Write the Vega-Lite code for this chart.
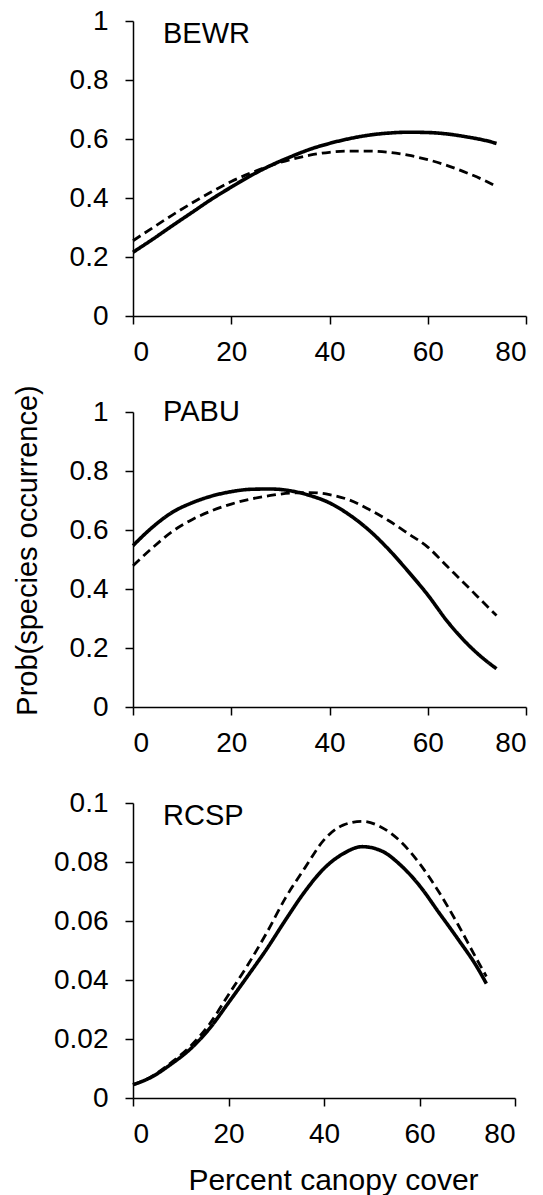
{
  "$schema": "https://vega.github.io/schema/vega-lite/v6.json",
  "background": "white",
  "padding": {"left": 13, "top": 7, "right": 1, "bottom": 0},
  "config": {
    "font": "Liberation Sans",
    "view": {"stroke": null},
    "axis": {
      "grid": false,
      "domainColor": "black",
      "domainWidth": 1.5,
      "tickColor": "black",
      "tickWidth": 1.5,
      "tickSize": 8,
      "labelColor": "black",
      "labelFont": "Liberation Sans",
      "labelFontSize": 28,
      "titleColor": "black",
      "titleFont": "Liberation Sans",
      "titleFontSize": 29,
      "titleFontWeight": "normal"
    },
    "axisX": {"labelPadding": 14, "titlePadding": 17},
    "axisY": {"labelPadding": 17, "titlePadding": 27},
    "title": {"font": "Liberation Sans", "fontSize": 29, "fontWeight": "normal", "color": "black", "anchor": "start", "frame": "group"}
  },
  "datasets": {
    "curves": [
      {"species": "BEWR", "curve": "A", "cover": 0, "prob": 0.216},
      {"species": "BEWR", "curve": "A", "cover": 4, "prob": 0.260},
      {"species": "BEWR", "curve": "A", "cover": 8, "prob": 0.306},
      {"species": "BEWR", "curve": "A", "cover": 12, "prob": 0.351},
      {"species": "BEWR", "curve": "A", "cover": 16, "prob": 0.396},
      {"species": "BEWR", "curve": "A", "cover": 20, "prob": 0.437},
      {"species": "BEWR", "curve": "A", "cover": 24, "prob": 0.476},
      {"species": "BEWR", "curve": "A", "cover": 28, "prob": 0.510},
      {"species": "BEWR", "curve": "A", "cover": 32, "prob": 0.539},
      {"species": "BEWR", "curve": "A", "cover": 36, "prob": 0.565},
      {"species": "BEWR", "curve": "A", "cover": 40, "prob": 0.585},
      {"species": "BEWR", "curve": "A", "cover": 44, "prob": 0.601},
      {"species": "BEWR", "curve": "A", "cover": 48, "prob": 0.613},
      {"species": "BEWR", "curve": "A", "cover": 52, "prob": 0.620},
      {"species": "BEWR", "curve": "A", "cover": 56, "prob": 0.623},
      {"species": "BEWR", "curve": "A", "cover": 60, "prob": 0.622},
      {"species": "BEWR", "curve": "A", "cover": 64, "prob": 0.617},
      {"species": "BEWR", "curve": "A", "cover": 68, "prob": 0.607},
      {"species": "BEWR", "curve": "A", "cover": 72, "prob": 0.594},
      {"species": "BEWR", "curve": "A", "cover": 74, "prob": 0.585},
      {"species": "BEWR", "curve": "B", "cover": 0, "prob": 0.255},
      {"species": "BEWR", "curve": "B", "cover": 4, "prob": 0.299},
      {"species": "BEWR", "curve": "B", "cover": 8, "prob": 0.342},
      {"species": "BEWR", "curve": "B", "cover": 12, "prob": 0.383},
      {"species": "BEWR", "curve": "B", "cover": 16, "prob": 0.421},
      {"species": "BEWR", "curve": "B", "cover": 20, "prob": 0.456},
      {"species": "BEWR", "curve": "B", "cover": 24, "prob": 0.485},
      {"species": "BEWR", "curve": "B", "cover": 28, "prob": 0.510},
      {"species": "BEWR", "curve": "B", "cover": 32, "prob": 0.530},
      {"species": "BEWR", "curve": "B", "cover": 36, "prob": 0.545},
      {"species": "BEWR", "curve": "B", "cover": 40, "prob": 0.555},
      {"species": "BEWR", "curve": "B", "cover": 44, "prob": 0.559},
      {"species": "BEWR", "curve": "B", "cover": 48, "prob": 0.559},
      {"species": "BEWR", "curve": "B", "cover": 52, "prob": 0.555},
      {"species": "BEWR", "curve": "B", "cover": 56, "prob": 0.545},
      {"species": "BEWR", "curve": "B", "cover": 60, "prob": 0.530},
      {"species": "BEWR", "curve": "B", "cover": 64, "prob": 0.510},
      {"species": "BEWR", "curve": "B", "cover": 68, "prob": 0.485},
      {"species": "BEWR", "curve": "B", "cover": 72, "prob": 0.456},
      {"species": "BEWR", "curve": "B", "cover": 74, "prob": 0.439},
      {"species": "PABU", "curve": "A", "cover": 0, "prob": 0.547},
      {"species": "PABU", "curve": "A", "cover": 4, "prob": 0.610},
      {"species": "PABU", "curve": "A", "cover": 8, "prob": 0.660},
      {"species": "PABU", "curve": "A", "cover": 12, "prob": 0.692},
      {"species": "PABU", "curve": "A", "cover": 16, "prob": 0.715},
      {"species": "PABU", "curve": "A", "cover": 20, "prob": 0.730},
      {"species": "PABU", "curve": "A", "cover": 24, "prob": 0.738},
      {"species": "PABU", "curve": "A", "cover": 28, "prob": 0.739},
      {"species": "PABU", "curve": "A", "cover": 32, "prob": 0.733},
      {"species": "PABU", "curve": "A", "cover": 36, "prob": 0.717},
      {"species": "PABU", "curve": "A", "cover": 40, "prob": 0.692},
      {"species": "PABU", "curve": "A", "cover": 44, "prob": 0.652},
      {"species": "PABU", "curve": "A", "cover": 48, "prob": 0.600},
      {"species": "PABU", "curve": "A", "cover": 52, "prob": 0.535},
      {"species": "PABU", "curve": "A", "cover": 56, "prob": 0.460},
      {"species": "PABU", "curve": "A", "cover": 60, "prob": 0.380},
      {"species": "PABU", "curve": "A", "cover": 64, "prob": 0.290},
      {"species": "PABU", "curve": "A", "cover": 68, "prob": 0.215},
      {"species": "PABU", "curve": "A", "cover": 72, "prob": 0.155},
      {"species": "PABU", "curve": "A", "cover": 74, "prob": 0.130},
      {"species": "PABU", "curve": "B", "cover": 0, "prob": 0.479},
      {"species": "PABU", "curve": "B", "cover": 4, "prob": 0.540},
      {"species": "PABU", "curve": "B", "cover": 8, "prob": 0.595},
      {"species": "PABU", "curve": "B", "cover": 12, "prob": 0.635},
      {"species": "PABU", "curve": "B", "cover": 16, "prob": 0.665},
      {"species": "PABU", "curve": "B", "cover": 20, "prob": 0.688},
      {"species": "PABU", "curve": "B", "cover": 24, "prob": 0.705},
      {"species": "PABU", "curve": "B", "cover": 28, "prob": 0.717},
      {"species": "PABU", "curve": "B", "cover": 32, "prob": 0.725},
      {"species": "PABU", "curve": "B", "cover": 36, "prob": 0.727},
      {"species": "PABU", "curve": "B", "cover": 40, "prob": 0.720},
      {"species": "PABU", "curve": "B", "cover": 44, "prob": 0.702},
      {"species": "PABU", "curve": "B", "cover": 48, "prob": 0.670},
      {"species": "PABU", "curve": "B", "cover": 52, "prob": 0.632},
      {"species": "PABU", "curve": "B", "cover": 56, "prob": 0.588},
      {"species": "PABU", "curve": "B", "cover": 60, "prob": 0.542},
      {"species": "PABU", "curve": "B", "cover": 64, "prob": 0.476},
      {"species": "PABU", "curve": "B", "cover": 68, "prob": 0.410},
      {"species": "PABU", "curve": "B", "cover": 72, "prob": 0.343},
      {"species": "PABU", "curve": "B", "cover": 74, "prob": 0.310},
      {"species": "RCSP", "curve": "A", "cover": 0, "prob": 0.0045},
      {"species": "RCSP", "curve": "A", "cover": 4, "prob": 0.0072},
      {"species": "RCSP", "curve": "A", "cover": 8, "prob": 0.0115},
      {"species": "RCSP", "curve": "A", "cover": 12, "prob": 0.0166},
      {"species": "RCSP", "curve": "A", "cover": 16, "prob": 0.0235},
      {"species": "RCSP", "curve": "A", "cover": 20, "prob": 0.0323},
      {"species": "RCSP", "curve": "A", "cover": 24, "prob": 0.0413},
      {"species": "RCSP", "curve": "A", "cover": 28, "prob": 0.0505},
      {"species": "RCSP", "curve": "A", "cover": 32, "prob": 0.0605},
      {"species": "RCSP", "curve": "A", "cover": 36, "prob": 0.0700},
      {"species": "RCSP", "curve": "A", "cover": 40, "prob": 0.0778},
      {"species": "RCSP", "curve": "A", "cover": 44, "prob": 0.0828},
      {"species": "RCSP", "curve": "A", "cover": 48, "prob": 0.0852},
      {"species": "RCSP", "curve": "A", "cover": 52, "prob": 0.0838},
      {"species": "RCSP", "curve": "A", "cover": 56, "prob": 0.0790},
      {"species": "RCSP", "curve": "A", "cover": 60, "prob": 0.0720},
      {"species": "RCSP", "curve": "A", "cover": 64, "prob": 0.0630},
      {"species": "RCSP", "curve": "A", "cover": 68, "prob": 0.0540},
      {"species": "RCSP", "curve": "A", "cover": 72, "prob": 0.0445},
      {"species": "RCSP", "curve": "A", "cover": 74, "prob": 0.0388},
      {"species": "RCSP", "curve": "B", "cover": 0, "prob": 0.0045},
      {"species": "RCSP", "curve": "B", "cover": 4, "prob": 0.0074},
      {"species": "RCSP", "curve": "B", "cover": 8, "prob": 0.0120},
      {"species": "RCSP", "curve": "B", "cover": 12, "prob": 0.0175},
      {"species": "RCSP", "curve": "B", "cover": 16, "prob": 0.0250},
      {"species": "RCSP", "curve": "B", "cover": 20, "prob": 0.0350},
      {"species": "RCSP", "curve": "B", "cover": 24, "prob": 0.0450},
      {"species": "RCSP", "curve": "B", "cover": 28, "prob": 0.0560},
      {"species": "RCSP", "curve": "B", "cover": 32, "prob": 0.0680},
      {"species": "RCSP", "curve": "B", "cover": 36, "prob": 0.0780},
      {"species": "RCSP", "curve": "B", "cover": 40, "prob": 0.0875},
      {"species": "RCSP", "curve": "B", "cover": 44, "prob": 0.0925},
      {"species": "RCSP", "curve": "B", "cover": 48, "prob": 0.0938},
      {"species": "RCSP", "curve": "B", "cover": 52, "prob": 0.0918},
      {"species": "RCSP", "curve": "B", "cover": 56, "prob": 0.0870},
      {"species": "RCSP", "curve": "B", "cover": 60, "prob": 0.0795},
      {"species": "RCSP", "curve": "B", "cover": 64, "prob": 0.0700},
      {"species": "RCSP", "curve": "B", "cover": 68, "prob": 0.0590},
      {"species": "RCSP", "curve": "B", "cover": 72, "prob": 0.0470},
      {"species": "RCSP", "curve": "B", "cover": 74, "prob": 0.0412}
    ]
  },
  "spacing": 96,
  "bounds": "flush",
  "resolve": {"scale": {"x": "independent", "y": "independent"}},
  "vconcat": [
    {
      "width": 393,
      "height": 295,
      "title": {"text": "BEWR", "offset": -42, "dx": 30},
      "data": {"name": "curves"},
      "transform": [{"filter": "datum.species === 'BEWR'"}],
      "mark": {"type": "line", "interpolate": "monotone", "color": "black"},
      "encoding": {
        "x": {"field": "cover", "type": "quantitative", "scale": {"domain": [0, 80], "nice": false}, "axis": {"values": [0, 20, 40, 60, 80], "title": null}},
        "y": {"field": "prob", "type": "quantitative", "scale": {"domain": [0, 1], "nice": false}, "axis": {"values": [0, 0.2, 0.4, 0.6, 0.8, 1], "format": "~g", "title": null}},
        "strokeDash": {"field": "curve", "type": "nominal", "scale": {"domain": ["A", "B"], "range": [[1, 0], [9, 5]]}, "legend": null},
        "strokeWidth": {"field": "curve", "type": "ordinal", "scale": {"domain": ["A", "B"], "range": [3.6, 2.8]}, "legend": null}
      }
    },
    {
      "width": 393,
      "height": 295,
      "title": {"text": "PABU", "offset": -42, "dx": 30},
      "data": {"name": "curves"},
      "transform": [{"filter": "datum.species === 'PABU'"}],
      "mark": {"type": "line", "interpolate": "monotone", "color": "black"},
      "encoding": {
        "x": {"field": "cover", "type": "quantitative", "scale": {"domain": [0, 80], "nice": false}, "axis": {"values": [0, 20, 40, 60, 80], "title": null}},
        "y": {"field": "prob", "type": "quantitative", "scale": {"domain": [0, 1], "nice": false}, "axis": {"values": [0, 0.2, 0.4, 0.6, 0.8, 1], "format": "~g", "title": "Prob(species occurrence)", "titleY": 138}},
        "strokeDash": {"field": "curve", "type": "nominal", "scale": {"domain": ["A", "B"], "range": [[1, 0], [9, 5]]}, "legend": null},
        "strokeWidth": {"field": "curve", "type": "ordinal", "scale": {"domain": ["A", "B"], "range": [3.6, 2.8]}, "legend": null}
      }
    },
    {
      "width": 382,
      "height": 295,
      "title": {"text": "RCSP", "offset": -42, "dx": 30},
      "data": {"name": "curves"},
      "transform": [{"filter": "datum.species === 'RCSP'"}],
      "mark": {"type": "line", "interpolate": "monotone", "color": "black"},
      "encoding": {
        "x": {"field": "cover", "type": "quantitative", "scale": {"domain": [0, 80], "nice": false}, "axis": {"values": [0, 20, 40, 60, 80], "title": "Percent canopy cover", "titleX": 200, "titleFontSize": 30}},
        "y": {"field": "prob", "type": "quantitative", "scale": {"domain": [0, 0.1], "nice": false}, "axis": {"values": [0, 0.02, 0.04, 0.06, 0.08, 0.1], "format": "~g", "title": null}},
        "strokeDash": {"field": "curve", "type": "nominal", "scale": {"domain": ["A", "B"], "range": [[1, 0], [9, 5]]}, "legend": null},
        "strokeWidth": {"field": "curve", "type": "ordinal", "scale": {"domain": ["A", "B"], "range": [3.6, 2.8]}, "legend": null}
      }
    }
  ]
}
